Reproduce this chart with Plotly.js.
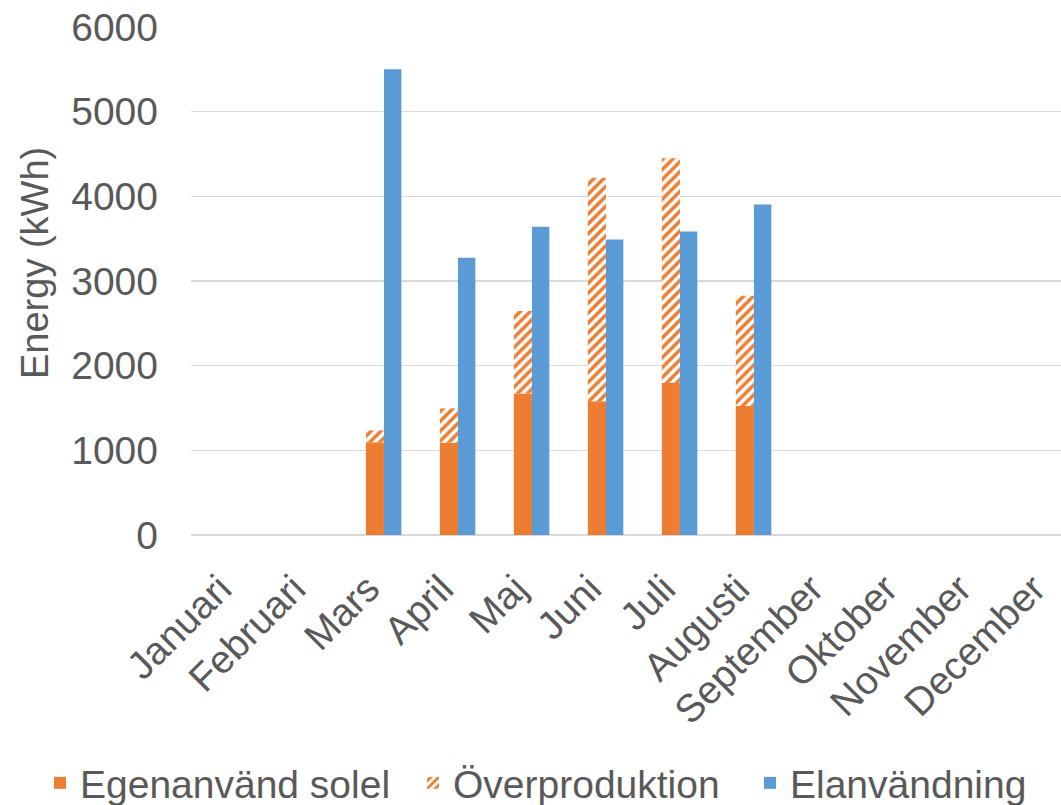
<!DOCTYPE html>
<html>
<head>
<meta charset="utf-8">
<script src="https://cdn.plot.ly/plotly-3.0.1.min.js"></script>
<style>html,body{margin:0;padding:0;background:#fff;}#chart{width:1061px;height:805px;}</style>
</head>
<body>
<div id="chart"></div>
<script>
const months = ["Januari","Februari","Mars","April","Maj","Juni","Juli","Augusti","September","Oktober","November","December"];
const egenanvand = [null,null,1095,1090,1670,1580,1795,1525,null,null,null,null];
const overproduktion = [null,null,140,405,975,2640,2655,1300,null,null,null,null];
const elanvandning = [null,null,5500,3275,3640,3490,3585,3905,null,null,null,null];
const yTicks = [0,1000,2000,3000,4000,5000,6000];
const yTitle = "Energy (kWh)";

const orange = "#ED7D31", blue = "#5B9BD5", txt = "#595959";
const FONT = "Liberation Sans, Arial, sans-serif";

const traces = [
  {type:"bar", name:"Egenanvänd solel", x:months, y:egenanvand, legend:"legend",
   offset:-0.245, width:0.245, marker:{color:orange, line:{width:0}}, hoverinfo:"skip"},
  {type:"bar", name:"Överproduktion", x:months, y:overproduktion, base:egenanvand, legend:"legend2",
   offset:-0.245, width:0.245,
   marker:{color:"#ffffff", line:{width:0},
     pattern:{shape:"/", fgcolor:orange, bgcolor:"#ffffff", size:7, solidity:0.5, fillmode:"replace"}},
   hoverinfo:"skip"},
  {type:"bar", name:"Elanvändning", x:months, y:elanvandning, legend:"legend3",
   offset:0, width:0.235, marker:{color:blue, line:{width:0}}, hoverinfo:"skip"}
];

function leg(px){
  return {orientation:"h", xref:"container", yref:"container", x:px/1061, xanchor:"left",
    y:(805-783)/805, yanchor:"middle", font:{family:FONT, size:39, color:txt},
    itemwidth:30, bgcolor:"rgba(0,0,0,0)"};
}

const layout = {
  width:1061, height:805,
  margin:{l:191, r:0, t:27, b:270, autoexpand:false},
  paper_bgcolor:"#fff", plot_bgcolor:"#fff",
  barmode:"overlay",
  showlegend:true,
  font:{family:FONT, color:txt, size:38},
  xaxis:{type:"category", categoryarray:months, range:[-0.608, 11.15],
    tickangle:-45, tickfont:{family:FONT, size:39, color:txt},
    ticklabelstandoff:22, ticklabelshift:-16,
    showgrid:false, zeroline:false, showline:false, ticks:"", fixedrange:true},
  yaxis:{range:[0,6000], tickvals:yTicks, ticktext:yTicks.map(String),
    tickfont:{family:FONT, size:39, color:txt},
    gridcolor:"#d9d9d9", gridwidth:1.5, zeroline:true, zerolinecolor:"#d9d9d9", zerolinewidth:1.5,
    showline:false, ticks:"", ticklabelstandoff:32},
  annotations:[{text:yTitle, textangle:-90, xref:"paper", yref:"paper",
    x:(35-191)/870, y:(535-263)/508, xanchor:"center", yanchor:"middle", showarrow:false,
    font:{family:FONT, size:38, color:txt}}],
  legend:leg(40),
  legend2:leg(413),
  legend3:leg(750)
};

Plotly.newPlot("chart", traces, layout, {staticPlot:true, displayModeBar:false});
</script>
</body>
</html>
